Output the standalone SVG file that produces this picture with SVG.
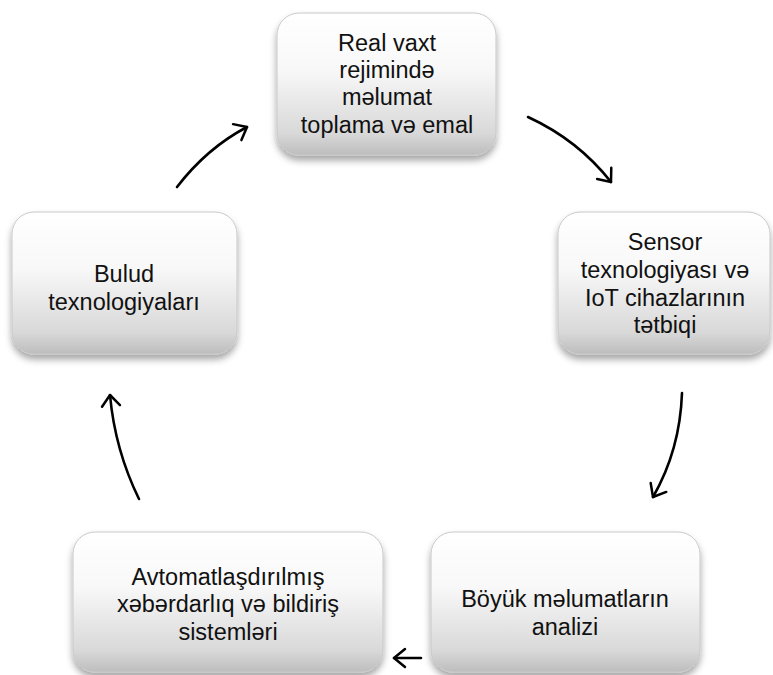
<svg xmlns="http://www.w3.org/2000/svg" width="773" height="675" viewBox="0 0 773 675">
<defs>
<linearGradient id="g" x1="0" y1="0" x2="0" y2="1">
<stop offset="0" stop-color="#ffffff"/>
<stop offset="0.4" stop-color="#f8f8f8"/>
<stop offset="0.85" stop-color="#d8d8d8"/>
<stop offset="1" stop-color="#bdbdbd"/>
</linearGradient>
<filter id="sh" x="-10%" y="-10%" width="120%" height="130%">
<feDropShadow dx="0" dy="5" stdDeviation="3.5" flood-color="#000" flood-opacity="0.35"/>
</filter>
<marker id="ah" markerUnits="userSpaceOnUse" markerWidth="24" markerHeight="24" refX="13" refY="10" orient="auto" viewBox="0 0 24 20">
<path d="M2,1 L13,10 L2,19" fill="none" stroke="#000" stroke-width="2.5" stroke-linecap="round" stroke-linejoin="round"/>
</marker>
</defs>
<style>
.box{fill:url(#g);stroke:#c8c8c8;stroke-width:1;filter:url(#sh)}
.t{font-family:"Liberation Sans",Arial,sans-serif;font-size:23.5px;fill:#111;text-anchor:middle}
.c{fill:none;stroke:#000;stroke-width:2.6;stroke-linecap:round;marker-end:url(#ah)}
</style>
<g id="n1">
<rect class="box" x="277" y="13" width="219" height="142" rx="22"/>
<text class="t" x="387" y="51">Real vaxt</text>
<text class="t" x="387" y="78">rejimində</text>
<text class="t" x="387" y="105">məlumat</text>
<text class="t" x="387" y="133">toplama və emal</text>
</g>
<g id="n2">
<rect class="box" x="558" y="212" width="212" height="142" rx="22"/>
<text class="t" x="665" y="250">Sensor</text>
<text class="t" x="665" y="278">texnologiyası və</text>
<text class="t" x="665" y="306">IoT cihazlarının</text>
<text class="t" x="665" y="333">tətbiqi</text>
</g>
<g id="n3">
<rect class="box" x="431" y="532" width="269" height="140" rx="22"/>
<text class="t" x="565" y="607">Böyük məlumatların</text>
<text class="t" x="565" y="635">analizi</text>
</g>
<g id="n4">
<rect class="box" x="73" y="532" width="310" height="140" rx="22"/>
<text class="t" x="228" y="585">Avtomatlaşdırılmış</text>
<text class="t" x="228" y="612">xəbərdarlıq və bildiriş</text>
<text class="t" x="228" y="640">sistemləri</text>
</g>
<g id="n5">
<rect class="box" x="12" y="212" width="225" height="142" rx="22"/>
<text class="t" x="124" y="282">Bulud</text>
<text class="t" x="124" y="310">texnologiyaları</text>
</g>
<g id="connectors">
<path class="c" d="M177,187 Q207,148 247,127"/>
<path class="c" d="M528,117 Q578,140 611,182"/>
<path class="c" d="M682,393 Q680,450 653,497"/>
<path class="c" d="M421,658 L394,658"/>
<path class="c" d="M139,499 Q115,450 110,395"/>
</g>
</svg>
